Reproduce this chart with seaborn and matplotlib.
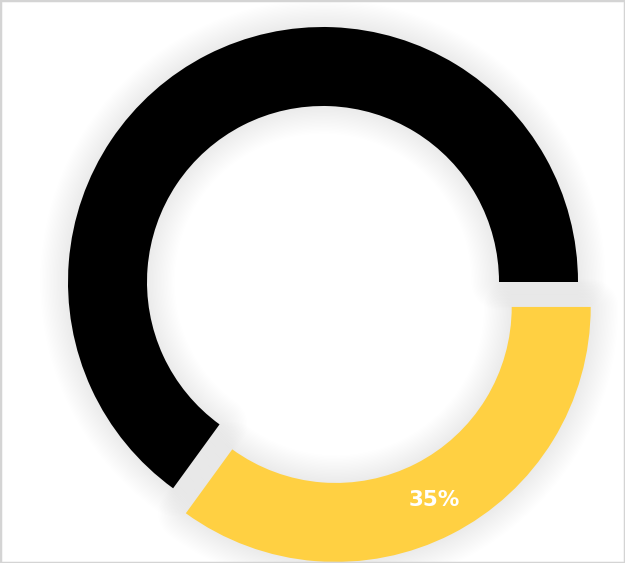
import matplotlib
matplotlib.use('Agg')
import matplotlib.pyplot as plt
import matplotlib.patches as mpatches
import seaborn as sns

labels = ['Yellow', 'Black']
values = [35, 65]
colors = ['#FFD042', '#000000']

sns.set_theme(style='white')
plt.rcParams['font.family'] = ['DejaVu Sans']

fig = plt.figure(figsize=(6.25, 5.63), dpi=100)
ax = fig.add_axes([0, 0, 1, 1])

center = (323, 281)
R = 255
W = 79
explode = [28, 0]

# soft shadow
for lw in range(40, 0, -2):
    ax.pie(values, explode=explode, center=center, radius=R, startangle=0,
           counterclock=False, colors=['none', 'none'],
           wedgeprops=dict(width=W, edgecolor=(0, 0, 0, 0.0045), linewidth=lw,
                           joinstyle='round'))

wedges, texts, autotexts = ax.pie(
    values, explode=explode, center=center, radius=R, startangle=0,
    counterclock=False, colors=colors,
    autopct=lambda p: f'{p:.0f}%' if p < 50 else '',
    pctdistance=0.85,
    wedgeprops=dict(width=W, edgecolor='none'),
    textprops=dict(color='white', fontsize=15.5, fontweight='bold'))

ax.set_xlim(0, 625)
ax.set_ylim(0, 563)
ax.set_aspect('auto')
ax.axis('off')

fig.patches.append(mpatches.Rectangle((0, 0), 1, 1, transform=fig.transFigure,
                                      fill=False, edgecolor='#d4d4d4', linewidth=2.5))

fig.savefig('out.png', dpi=100)
